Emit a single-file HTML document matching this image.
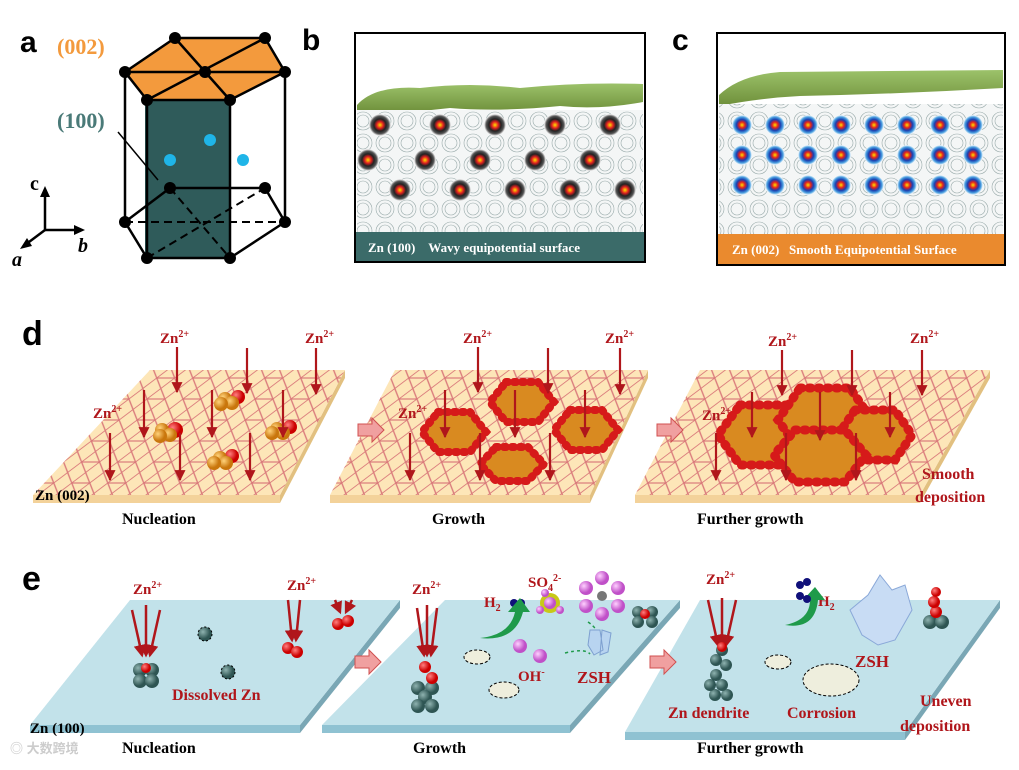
<!DOCTYPE html>
<html><head><meta charset="utf-8"><style>
body{margin:0;background:#fff}
svg{display:block}
text{font-family:"Liberation Serif",serif;font-weight:bold}
</style></head><body>
<svg width="1019" height="770" viewBox="0 0 1019 770" xmlns="http://www.w3.org/2000/svg">
<defs>
<pattern id="hex" width="36" height="21" patternUnits="userSpaceOnUse" patternTransform="skewX(-25)">
<path d="M0 10.5 L9 0 L27 0 L36 10.5 L27 21 L9 21 Z M9 0 L18 10.5 L9 21 M27 0 L18 10.5 L27 21" fill="none" stroke="#d9787a" stroke-width="1.1"/>
</pattern>
<pattern id="cont" width="22" height="22" patternUnits="userSpaceOnUse">
<circle cx="11" cy="11" r="9" fill="none" stroke="#9aa" stroke-width=".6"/><circle cx="11" cy="11" r="6" fill="none" stroke="#9aa" stroke-width=".6"/>
</pattern>
<radialGradient id="gold" cx="35%" cy="35%"><stop offset="0" stop-color="#ffd27a"/><stop offset="1" stop-color="#c9760c"/></radialGradient>
<radialGradient id="red" cx="35%" cy="35%"><stop offset="0" stop-color="#ff8080"/><stop offset="1" stop-color="#c00"/></radialGradient>
<radialGradient id="teal" cx="35%" cy="35%"><stop offset="0" stop-color="#8fb3b0"/><stop offset="1" stop-color="#2e5553"/></radialGradient>
<radialGradient id="pink" cx="35%" cy="35%"><stop offset="0" stop-color="#ffd0ff"/><stop offset="1" stop-color="#c050c8"/></radialGradient>
<radialGradient id="ring" cx="50%" cy="50%"><stop offset="0" stop-color="#ffe000"/><stop offset=".3" stop-color="#e02020"/><stop offset=".55" stop-color="#222"/><stop offset=".8" stop-color="#555"/><stop offset="1" stop-color="#fff"/></radialGradient>
<radialGradient id="ring2" cx="50%" cy="50%"><stop offset="0" stop-color="#ffe000"/><stop offset=".3" stop-color="#e02020"/><stop offset=".55" stop-color="#1a3fb0"/><stop offset=".8" stop-color="#4aa0e0"/><stop offset="1" stop-color="#fff"/></radialGradient>
<linearGradient id="grn" x1="0" y1="0" x2="0" y2="1"><stop offset="0" stop-color="#9cc26a"/><stop offset="1" stop-color="#6e8f3a"/></linearGradient>
<marker id="ah" viewBox="0 0 10 10" markerWidth="5" markerHeight="5" refX="9" refY="5" orient="auto"><path d="M0 0 L10 5 L0 10Z" fill="#b0161b"/></marker>
<marker id="arr" viewBox="0 0 10 10" markerWidth="5" markerHeight="5" refX="8" refY="5" orient="auto"><path d="M0 0 L10 5 L0 10Z" fill="#b0161b"/></marker>
</defs>

<!-- panel a -->
<text x="20" y="52" font-size="30" style="font-family:'Liberation Sans',sans-serif">a</text>
<polygon points="145,100 230,100 230,258 145,258" fill="#2f5b5a"/>
<polygon points="125,72 175,38 265,38 285,72 230,100 147,100" fill="#f39a3d"/>
<g stroke="#000" stroke-width="2.5" fill="none">
<polygon points="125,72 175,38 265,38 285,72 230,100 147,100"/>
<line x1="125" y1="72" x2="285" y2="72"/><line x1="175" y1="38" x2="230" y2="100"/><line x1="265" y1="38" x2="147" y2="100"/>
<line x1="125" y1="72" x2="125" y2="222"/><line x1="285" y1="72" x2="285" y2="222"/>
<line x1="147" y1="100" x2="147" y2="258"/><line x1="230" y1="100" x2="230" y2="258"/>
<polyline points="125,222 147,258 230,258 285,222"/>
<line x1="125" y1="222" x2="170" y2="188"/><line x1="170" y1="188" x2="265" y2="188"/><line x1="265" y1="188" x2="285" y2="222"/>
</g>
<g stroke="#000" stroke-width="2" stroke-dasharray="8,5" fill="none">
<line x1="125" y1="222" x2="285" y2="222"/><line x1="147" y1="258" x2="265" y2="188"/><line x1="170" y1="188" x2="230" y2="258"/>
</g>
<g fill="#000">
<circle cx="175" cy="38" r="6"/><circle cx="265" cy="38" r="6"/><circle cx="125" cy="72" r="6"/><circle cx="205" cy="72" r="6"/><circle cx="285" cy="72" r="6"/><circle cx="147" cy="100" r="6"/><circle cx="230" cy="100" r="6"/>
<circle cx="125" cy="222" r="6"/><circle cx="147" cy="258" r="6"/><circle cx="230" cy="258" r="6"/><circle cx="285" cy="222" r="6"/><circle cx="170" cy="188" r="6"/><circle cx="265" cy="188" r="6"/>
</g>
<circle cx="210" cy="140" r="6" fill="#1fb5e8"/><circle cx="170" cy="160" r="6" fill="#1fb5e8"/><circle cx="243" cy="160" r="6" fill="#1fb5e8"/>
<text x="57" y="54" font-size="22" fill="#f39a3d">(002)</text>
<text x="57" y="128" font-size="22" fill="#4a7a78">(100)</text>
<line x1="118" y1="132" x2="158" y2="180" stroke="#000" stroke-width="1.5"/>
<g stroke="#000" stroke-width="2.5"><line x1="45" y1="230" x2="45" y2="193"/><line x1="45" y1="230" x2="78" y2="230"/><line x1="45" y1="230" x2="25" y2="245"/></g>
<path d="M40 197 L45 186 L50 197Z M74 225 L85 230 L74 235Z M27 238 L20 249 L32 246Z"/>
<text x="30" y="190" font-size="20">c</text><text x="78" y="252" font-size="20" font-style="italic">b</text><text x="12" y="266" font-size="20" font-style="italic">a</text>

<!-- panel b -->
<text x="302" y="50" font-size="30" style="font-family:'Liberation Sans',sans-serif">b</text>
<rect x="355" y="33" width="290" height="229" fill="#fff" stroke="#000" stroke-width="2"/>
<path d="M357 105 Q375 85 420 88 Q470 82 520 88 Q580 82 643 84 L643 102 Q600 110 560 106 Q500 112 450 108 Q400 114 357 112Z" fill="url(#grn)"/>
<rect x="357" y="110" width="286" height="122" fill="#f4f6f6"/>
<rect x="357" y="110" width="286" height="122" fill="url(#cont)"/>
<g>
<circle cx="380" cy="125" r="11" fill="url(#ring)"/><circle cx="440" cy="125" r="11" fill="url(#ring)"/><circle cx="495" cy="125" r="11" fill="url(#ring)"/><circle cx="555" cy="125" r="11" fill="url(#ring)"/><circle cx="610" cy="125" r="11" fill="url(#ring)"/>
<circle cx="368" cy="160" r="11" fill="url(#ring)"/><circle cx="425" cy="160" r="11" fill="url(#ring)"/><circle cx="480" cy="160" r="11" fill="url(#ring)"/><circle cx="535" cy="160" r="11" fill="url(#ring)"/><circle cx="590" cy="160" r="11" fill="url(#ring)"/>
<circle cx="400" cy="190" r="11" fill="url(#ring)"/><circle cx="460" cy="190" r="11" fill="url(#ring)"/><circle cx="515" cy="190" r="11" fill="url(#ring)"/><circle cx="570" cy="190" r="11" fill="url(#ring)"/><circle cx="625" cy="190" r="11" fill="url(#ring)"/>
</g>
<rect x="356" y="232" width="288" height="29" fill="#3b6b69"/>
<text x="368" y="252" font-size="13" fill="#fff">Zn (100)&#160;&#160;&#160;&#160;Wavy equipotential surface</text>

<!-- panel c -->
<text x="672" y="50" font-size="30" style="font-family:'Liberation Sans',sans-serif">c</text>
<rect x="717" y="33" width="288" height="232" fill="#fff" stroke="#000" stroke-width="2"/>
<path d="M719 95 Q740 75 780 72 L1003 70 L1003 88 Q900 94 800 96 Q760 98 719 106Z" fill="url(#grn)"/>
<rect x="719" y="104" width="284" height="130" fill="#f4f6f6"/>
<rect x="719" y="104" width="284" height="130" fill="url(#cont)"/>
<g fill="url(#ring2)">
<circle cx="742" cy="125" r="10"/><circle cx="775" cy="125" r="10"/><circle cx="808" cy="125" r="10"/><circle cx="841" cy="125" r="10"/><circle cx="874" cy="125" r="10"/><circle cx="907" cy="125" r="10"/><circle cx="940" cy="125" r="10"/><circle cx="973" cy="125" r="10"/>
<circle cx="742" cy="155" r="10"/><circle cx="775" cy="155" r="10"/><circle cx="808" cy="155" r="10"/><circle cx="841" cy="155" r="10"/><circle cx="874" cy="155" r="10"/><circle cx="907" cy="155" r="10"/><circle cx="940" cy="155" r="10"/><circle cx="973" cy="155" r="10"/>
<circle cx="742" cy="185" r="10"/><circle cx="775" cy="185" r="10"/><circle cx="808" cy="185" r="10"/><circle cx="841" cy="185" r="10"/><circle cx="874" cy="185" r="10"/><circle cx="907" cy="185" r="10"/><circle cx="940" cy="185" r="10"/><circle cx="973" cy="185" r="10"/>
</g>
<rect x="718" y="234" width="286" height="30" fill="#ea8a2e"/>
<text x="732" y="254" font-size="13" fill="#fff">Zn (002)&#160;&#160;&#160;Smooth Equipotential Surface</text>

<!-- panel d -->
<text x="22" y="345" font-size="34" style="font-family:'Liberation Sans',sans-serif">d</text>
<g>
<polygon points="33,495 280,495 280,503 33,503" fill="#f3d29a"/><polygon points="280,495 345,370 345,378 280,503" fill="#e2c080"/>
<polygon points="150,370 345,370 280,495 33,495" fill="#fde6b8"/><polygon points="150,370 345,370 280,495 33,495" fill="url(#hex)"/>
<polygon points="330,495 590,495 590,503 330,503" fill="#f3d29a"/><polygon points="590,495 648,370 648,378 590,503" fill="#e2c080"/>
<polygon points="395,370 648,370 590,495 330,495" fill="#fde6b8"/><polygon points="395,370 648,370 590,495 330,495" fill="url(#hex)"/>
<polygon points="635,495 920,495 920,503 635,503" fill="#f3d29a"/><polygon points="920,495 990,370 990,378 920,503" fill="#e2c080"/>
<polygon points="700,370 990,370 920,495 635,495" fill="#fde6b8"/><polygon points="700,370 990,370 920,495 635,495" fill="url(#hex)"/>
</g>
<g>
<circle cx="175" cy="430" r="8" fill="url(#red)"/><circle cx="162" cy="430" r="7" fill="url(#gold)"/><circle cx="170" cy="435" r="7" fill="url(#gold)"/><circle cx="160" cy="436" r="7" fill="url(#gold)"/>
<circle cx="238" cy="397" r="7" fill="url(#red)"/><circle cx="225" cy="399" r="7" fill="url(#gold)"/><circle cx="232" cy="403" r="7" fill="url(#gold)"/><circle cx="221" cy="404" r="7" fill="url(#gold)"/>
<circle cx="290" cy="427" r="7" fill="url(#red)"/><circle cx="277" cy="429" r="7" fill="url(#gold)"/><circle cx="283" cy="433" r="7" fill="url(#gold)"/><circle cx="272" cy="433" r="7" fill="url(#gold)"/>
<circle cx="232" cy="456" r="7" fill="url(#red)"/><circle cx="220" cy="458" r="7" fill="url(#gold)"/><circle cx="226" cy="463" r="7" fill="url(#gold)"/><circle cx="214" cy="463" r="7" fill="url(#gold)"/>
</g>
<g>
<polygon points="438,412 470,412 486,432 470,452 438,452 422,432" fill="#d98a20" stroke="#d61a1a" stroke-width="8" stroke-dasharray="2,6" stroke-linecap="round"/>
<polygon points="506,382 538,382 554,402 538,422 506,422 490,402" fill="#d98a20" stroke="#d61a1a" stroke-width="8" stroke-dasharray="2,6" stroke-linecap="round"/>
<polygon points="570,410 602,410 618,430 602,450 570,450 554,430" fill="#d98a20" stroke="#d61a1a" stroke-width="8" stroke-dasharray="2,6" stroke-linecap="round"/>
<polygon points="496,447 528,447 544,464 528,481 496,481 480,464" fill="#d98a20" stroke="#d61a1a" stroke-width="8" stroke-dasharray="2,6" stroke-linecap="round"/>
</g>
<g stroke="#d61a1a" stroke-width="9" stroke-dasharray="2,7" stroke-linecap="round" fill="#d98a20">
<polygon points="740,405 790,405 812,435 790,465 740,465 718,435"/>
<polygon points="800,388 850,388 872,420 850,452 800,452 778,420"/>
<polygon points="855,410 895,410 912,435 895,460 855,460 838,435"/>
<polygon points="795,430 845,430 866,455 845,482 795,482 774,455"/>
</g>
<g stroke="#b0161b" stroke-width="2.2" marker-end="url(#ah)">
<line x1="177" y1="347" x2="177" y2="392"/><line x1="247" y1="348" x2="247" y2="393"/><line x1="316" y1="348" x2="316" y2="394"/>
<line x1="144" y1="390" x2="144" y2="437"/><line x1="212" y1="390" x2="212" y2="437"/><line x1="283" y1="390" x2="283" y2="437"/>
<line x1="110" y1="433" x2="110" y2="480"/><line x1="180" y1="433" x2="180" y2="480"/><line x1="250" y1="433" x2="250" y2="480"/>
<line x1="478" y1="347" x2="478" y2="392"/><line x1="548" y1="348" x2="548" y2="393"/><line x1="620" y1="348" x2="620" y2="394"/>
<line x1="445" y1="390" x2="445" y2="437"/><line x1="515" y1="390" x2="515" y2="437"/><line x1="585" y1="390" x2="585" y2="437"/>
<line x1="410" y1="433" x2="410" y2="480"/><line x1="480" y1="433" x2="480" y2="480"/><line x1="550" y1="433" x2="550" y2="480"/>
<line x1="782" y1="350" x2="782" y2="395"/><line x1="852" y1="350" x2="852" y2="395"/><line x1="922" y1="350" x2="922" y2="395"/>
<line x1="752" y1="392" x2="752" y2="437"/><line x1="820" y1="392" x2="820" y2="440"/><line x1="890" y1="392" x2="890" y2="437"/>
<line x1="716" y1="433" x2="716" y2="480"/><line x1="786" y1="433" x2="786" y2="480"/><line x1="856" y1="433" x2="856" y2="480"/>
</g>
<g font-size="15" fill="#b0161b">
<text x="160" y="343">Zn<tspan font-size="10" dy="-6">2+</tspan></text><text x="305" y="343">Zn<tspan font-size="10" dy="-6">2+</tspan></text><text x="93" y="418">Zn<tspan font-size="10" dy="-6">2+</tspan></text>
<text x="463" y="343">Zn<tspan font-size="10" dy="-6">2+</tspan></text><text x="605" y="343">Zn<tspan font-size="10" dy="-6">2+</tspan></text><text x="398" y="418">Zn<tspan font-size="10" dy="-6">2+</tspan></text>
<text x="768" y="346">Zn<tspan font-size="10" dy="-6">2+</tspan></text><text x="910" y="343">Zn<tspan font-size="10" dy="-6">2+</tspan></text><text x="702" y="420">Zn<tspan font-size="10" dy="-6">2+</tspan></text>
</g>
<polygon points="358,424 372,424 372,418 384,430 372,442 372,436 358,436" fill="#f0a0a0" stroke="#d05050"/>
<polygon points="657,424 671,424 671,418 683,430 671,442 671,436 657,436" fill="#f0a0a0" stroke="#d05050"/>
<text x="35" y="500" font-size="15">Zn (002)</text>
<text x="122" y="524" font-size="16">Nucleation</text><text x="432" y="524" font-size="16">Growth</text><text x="697" y="524" font-size="16">Further growth</text>
<text x="922" y="479" font-size="16" fill="#b0161b">Smooth</text><text x="915" y="502" font-size="16" fill="#b0161b">deposition</text>

<!-- panel e -->
<text x="22" y="590" font-size="34" style="font-family:'Liberation Sans',sans-serif">e</text>
<g>
<polygon points="30,725 300,725 300,733 30,733" fill="#8fc2d2"/><polygon points="300,725 400,600 400,608 300,733" fill="#7aa7b5"/>
<polygon points="130,600 400,600 300,725 30,725" fill="#c2e2ea"/>
<polygon points="322,725 570,725 570,733 322,733" fill="#8fc2d2"/><polygon points="570,725 680,600 680,608 570,733" fill="#7aa7b5"/>
<polygon points="445,600 680,600 570,725 322,725" fill="#c2e2ea"/>
<polygon points="625,732 905,732 905,740 625,740" fill="#8fc2d2"/><polygon points="905,732 1000,600 1000,608 905,740" fill="#7aa7b5"/>
<polygon points="700,600 1000,600 905,732 625,732" fill="#c2e2ea"/>
</g>
<polygon points="355,656 369,656 369,650 381,662 369,674 369,668 355,668" fill="#f0a0a0" stroke="#d05050"/>
<polygon points="650,656 664,656 664,650 676,662 664,674 664,668 650,668" fill="#f0a0a0" stroke="#d05050"/>
<g stroke="#b0161b" stroke-width="2.5" marker-end="url(#arr)">
<line x1="132" y1="610" x2="142" y2="655"/><line x1="146" y1="605" x2="146" y2="655"/><line x1="160" y1="610" x2="150" y2="655"/>
<line x1="288" y1="600" x2="292" y2="640"/><line x1="300" y1="600" x2="296" y2="640"/>
<line x1="335" y1="600" x2="340" y2="612"/><line x1="352" y1="600" x2="346" y2="612"/>
<line x1="417" y1="608" x2="424" y2="655"/><line x1="427" y1="605" x2="427" y2="655"/><line x1="437" y1="608" x2="431" y2="655"/>
<line x1="708" y1="600" x2="718" y2="645"/><line x1="722" y1="598" x2="722" y2="645"/><line x1="736" y1="600" x2="726" y2="645"/>
</g>
<g font-size="15" fill="#b0161b">
<text x="133" y="594">Zn<tspan font-size="10" dy="-6">2+</tspan></text><text x="287" y="590">Zn<tspan font-size="10" dy="-6">2+</tspan></text>
<text x="412" y="594">Zn<tspan font-size="10" dy="-6">2+</tspan></text><text x="706" y="584">Zn<tspan font-size="10" dy="-6">2+</tspan></text>
<text x="484" y="607">H<tspan font-size="10" dy="4">2</tspan></text><text x="528" y="587">SO<tspan font-size="10" dy="4">4</tspan><tspan font-size="10" dy="-10">2-</tspan></text>
<text x="518" y="681">OH<tspan font-size="10" dy="-6">-</tspan></text><text x="577" y="683" font-size="17">ZSH</text>
<text x="818" y="606">H<tspan font-size="10" dy="4">2</tspan></text><text x="855" y="667" font-size="17">ZSH</text>
<text x="172" y="700" font-size="16">Dissolved Zn</text><text x="668" y="718" font-size="16">Zn dendrite</text><text x="787" y="718" font-size="16">Corrosion</text>
<text x="920" y="706" font-size="16">Uneven</text><text x="900" y="731" font-size="16">deposition</text>
</g>
<g>
<circle cx="140" cy="670" r="7" fill="url(#teal)"/><circle cx="152" cy="670" r="7" fill="url(#teal)"/><circle cx="140" cy="681" r="7" fill="url(#teal)"/><circle cx="152" cy="681" r="7" fill="url(#teal)"/><circle cx="146" cy="668" r="5" fill="url(#red)"/>
<circle cx="205" cy="634" r="7" fill="url(#teal)" stroke="#000" stroke-dasharray="2,2"/><circle cx="228" cy="672" r="7" fill="url(#teal)" stroke="#000" stroke-dasharray="2,2"/>
<circle cx="288" cy="648" r="6" fill="url(#red)"/><circle cx="297" cy="652" r="6" fill="url(#red)"/><circle cx="338" cy="624" r="6" fill="url(#red)"/><circle cx="348" cy="621" r="6" fill="url(#red)"/>
<circle cx="418" cy="688" r="7" fill="url(#teal)"/><circle cx="432" cy="688" r="7" fill="url(#teal)"/><circle cx="425" cy="697" r="7" fill="url(#teal)"/><circle cx="418" cy="706" r="7" fill="url(#teal)"/><circle cx="432" cy="706" r="7" fill="url(#teal)"/><circle cx="432" cy="678" r="6" fill="url(#red)"/><circle cx="425" cy="667" r="6" fill="url(#red)"/>
<circle cx="638" cy="612" r="6" fill="url(#teal)"/><circle cx="652" cy="612" r="6" fill="url(#teal)"/><circle cx="638" cy="622" r="6" fill="url(#teal)"/><circle cx="652" cy="622" r="6" fill="url(#teal)"/><circle cx="645" cy="614" r="5" fill="url(#red)"/>
<circle cx="514" cy="603" r="4" fill="#10107a"/><circle cx="521" cy="603" r="4" fill="#10107a"/>
<circle cx="550" cy="603" r="10" fill="#c8c818"/><circle cx="550" cy="603" r="6" fill="url(#pink)"/><circle cx="540" cy="610" r="4" fill="url(#pink)"/><circle cx="560" cy="610" r="4" fill="url(#pink)"/><circle cx="545" cy="593" r="4" fill="url(#pink)"/>
<circle cx="602" cy="596" r="5" fill="#777"/>
<circle cx="602" cy="578" r="7" fill="url(#pink)"/><circle cx="618" cy="588" r="7" fill="url(#pink)"/><circle cx="618" cy="606" r="7" fill="url(#pink)"/><circle cx="602" cy="614" r="7" fill="url(#pink)"/><circle cx="586" cy="606" r="7" fill="url(#pink)"/><circle cx="586" cy="588" r="7" fill="url(#pink)"/>
<circle cx="520" cy="646" r="7" fill="url(#pink)"/><circle cx="540" cy="656" r="7" fill="url(#pink)"/>
<path d="M480 638 Q510 635 515 612 L508 612 L520 598 L530 612 L523 612 Q515 642 480 638Z" fill="#1f9a4a"/>
<path d="M588 622 Q600 630 598 640 M565 653 Q585 648 590 654" stroke="#1f9a4a" stroke-dasharray="3,3" fill="none" stroke-width="1.5"/>
<path d="M590 630 L600 630 L603 650 L594 655 L588 645Z M602 630 L611 633 L608 652 L600 655Z" fill="#b8d4f0" stroke="#7ea0d0"/>
<ellipse cx="477" cy="657" rx="13" ry="7" fill="#eeeedd" stroke="#000" stroke-dasharray="3,2"/>
<ellipse cx="504" cy="690" rx="15" ry="8" fill="#eeeedd" stroke="#000" stroke-dasharray="3,2"/>
<ellipse cx="778" cy="662" rx="13" ry="7" fill="#eeeedd" stroke="#000" stroke-dasharray="3,2"/>
<ellipse cx="831" cy="680" rx="28" ry="16" fill="#eeeedd" stroke="#000" stroke-dasharray="3,2"/>
<g fill="url(#teal)"><circle cx="715" cy="695" r="6"/><circle cx="727" cy="695" r="6"/><circle cx="710" cy="685" r="6"/><circle cx="722" cy="685" r="6"/><circle cx="716" cy="675" r="6"/><circle cx="726" cy="665" r="6"/><circle cx="716" cy="660" r="6"/><circle cx="722" cy="650" r="6"/></g>
<circle cx="722" cy="647" r="5" fill="url(#red)"/>
<path d="M785 625 Q810 620 810 600 L803 600 L815 587 L825 600 L818 600 Q815 630 785 625Z" fill="#1f9a4a"/>
<circle cx="800" cy="596" r="4" fill="#10107a"/><circle cx="807" cy="599" r="4" fill="#10107a"/><circle cx="800" cy="585" r="4" fill="#10107a"/><circle cx="807" cy="582" r="4" fill="#10107a"/>
<path d="M850 610 L868 595 L880 575 L892 590 L905 585 L912 610 L895 640 L878 645 L862 635Z" fill="#c8dcf4" stroke="#8aa8d8"/>
<circle cx="930" cy="622" r="7" fill="url(#teal)"/><circle cx="942" cy="622" r="7" fill="url(#teal)"/><circle cx="936" cy="612" r="6" fill="url(#red)"/><circle cx="934" cy="602" r="6" fill="url(#red)"/><circle cx="936" cy="592" r="5" fill="url(#red)"/>
</g>
<text x="30" y="733" font-size="15">Zn (100)</text>
<text x="122" y="753" font-size="16">Nucleation</text><text x="413" y="753" font-size="16">Growth</text><text x="697" y="753" font-size="16">Further growth</text>
<text x="10" y="753" font-size="13" fill="#ccc" style="font-family:'Liberation Sans','Noto Sans CJK SC',sans-serif">◎ 大数跨境</text>
</svg>
</body></html>
